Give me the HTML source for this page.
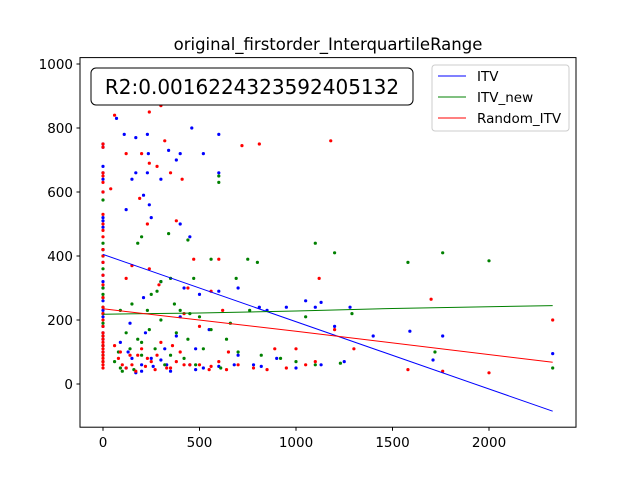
<!DOCTYPE html>
<html><head><meta charset="utf-8"><style>
body{margin:0;background:#fff;font-family:"Liberation Sans","DejaVu Sans",sans-serif}
svg text{font-family:"DejaVu Sans","Liberation Sans",sans-serif}
</style></head><body>
<svg id="c" width="640" height="480" xmlns="http://www.w3.org/2000/svg">
<rect width="640" height="480" fill="#fff"/>
<g id="marks"></g>
<rect x="80" y="57.6" width="496" height="369.6" fill="none" stroke="#000" stroke-width="1"/>
<g id="axes"></g>
<text x="328" y="50" font-size="16.5" text-anchor="middle">original_firstorder_InterquartileRange</text>
<rect x="91" y="68" width="322" height="37" rx="5" fill="#fff" stroke="#000" stroke-width="1"/>
<text x="252" y="94" font-size="20" text-anchor="middle">R2:0.0016224323592405132</text>
<g>
<rect x="432" y="65" width="137" height="66" rx="3" fill="#fff" fill-opacity="0.8" stroke="#ccc"/>
<line x1="438" y1="76" x2="466" y2="76" stroke="#0000ff"/>
<text x="477" y="81" font-size="13.5">ITV</text>
<line x1="438" y1="97" x2="466" y2="97" stroke="#008000"/>
<text x="477" y="102" font-size="13.5">ITV_new</text>
<line x1="438" y1="118" x2="466" y2="118" stroke="#ff0000"/>
<text x="477" y="123" font-size="13.5">Random_ITV</text>
</g>
</svg>
<script>
const xTicks=[0,500,1000,1500,2000];
const yTicks=[0,200,400,600,800,1000];
const blueX0=[750,740,680,660,640,600,520,510,490,420,380,340,320,300,260,230,210,180,160,140,120,100];
const greenX0=[575,440,420,400,360,300,280,270,240,220,190,150,120,90,70];
const redX0=[750,740,660,650,630,600,530,500,480,460,420,400,380,340,310,270,240,220,200,180,160,140,120,100,80,60,50,110,90,70,130,150];
const bluePts=[[70,830],[110,780],[170,770],[230,780],[235,720],[340,730],[170,660],[230,660],[120,545],[150,640],[300,640],[380,700],[400,720],[520,720],[600,780],[460,800],[600,660],[250,520],[240,560],[400,500],[450,460],[210,590],[300,320],[210,270],[420,300],[500,280],[600,290],[700,300],[810,240],[1050,260],[1130,255],[1280,240],[1200,180],[1400,150],[1590,165],[1760,150],[1710,75],[2330,95],[1130,60],[1250,70],[1000,50],[900,80],[780,60],[600,55],[450,60],[300,75],[200,40],[150,80],[380,150],[250,80],[950,240],[1100,240],[850,230],[700,90],[550,170],[480,110],[320,110],[140,190],[400,210],[220,160],[90,130],[130,100],[200,60],[260,55],[330,60],[480,45],[520,50],[680,60],[820,55],[350,40],[170,35],[120,50]];
const greenPts=[[180,440],[200,460],[340,470],[300,320],[350,330],[370,250],[440,450],[560,390],[600,630],[600,650],[470,330],[690,330],[750,390],[800,380],[1100,440],[1200,410],[1580,380],[1760,410],[2000,385],[1050,210],[1290,220],[1720,100],[2330,50],[1230,65],[1100,60],[1000,70],[920,80],[820,90],[700,100],[640,140],[560,170],[500,210],[450,220],[400,230],[300,200],[250,280],[150,250],[120,160],[80,100],[200,130],[350,90],[420,80],[480,60],[100,40],[160,45],[240,170],[380,160],[520,110],[660,190],[760,230],[280,290],[90,230],[230,230],[60,70],[200,90],[270,110],[320,60],[440,140],[180,140],[140,110],[610,50],[90,50]];
const redPts=[[60,840],[240,850],[300,870],[120,720],[200,720],[320,760],[280,680],[240,690],[40,610],[190,580],[230,500],[380,510],[350,660],[410,640],[720,745],[810,750],[1180,760],[470,390],[120,330],[150,370],[240,360],[290,310],[440,300],[560,290],[600,390],[620,230],[1120,330],[1700,265],[2330,200],[1200,170],[1300,110],[1580,45],[2000,35],[1760,40],[1100,70],[950,50],[850,45],[780,50],[700,60],[550,45],[450,60],[350,50],[250,70],[150,60],[80,80],[60,120],[200,110],[300,130],[400,100],[500,180],[650,100],[890,110],[1050,60],[270,45],[180,90],[420,220],[1000,110],[100,60],[120,50],[170,40],[220,55],[280,90],[330,50],[380,70],[500,60],[560,55],[640,45],[90,100],[140,90],[230,80],[360,120],[420,60],[600,70]];
const blueLineX=[0,2330];const blueLineY=[405,-85];
const greenLineX=[0,500,1000,1500,2330];const greenLineY=[218,222,228,236,245];
const redLineX=[0,1000,2330];const redLineY=[235,165,68];
const NS="http://www.w3.org/2000/svg";
const xs=v=>103+v*0.193, ys=v=>384-v*0.32;
const marks=document.getElementById('marks'), axes=document.getElementById('axes');
function mk(t,a,p){const e=document.createElementNS(NS,t);for(const k in a)e.setAttribute(k,a[k]);p.appendChild(e);return e;}
function dots(pts,col,name){pts.forEach(p=>{const e=mk('circle',{cx:xs(p[0]),cy:ys(p[1]),r:1.6,fill:col},marks);

});}
dots(bluePts,'#0000ff','itv-point');
dots(blueX0.map(v=>[0,v]),'#0000ff','itv-point');
dots(greenPts,'#008000','itv-new-point');
dots(greenX0.map(v=>[0,v]),'#008000','itv-new-point');
dots(redPts,'#ff0000','random-itv-point');
dots(redX0.map(v=>[0,v]),'#ff0000','random-itv-point');
function line(X,Y,col,name){const e=mk('polyline',{points:X.map((x,i)=>xs(x)+','+ys(Y[i])).join(' '),fill:'none',stroke:col,'stroke-width':1},marks);

}
line(blueLineX,blueLineY,'#0000ff','itv-fit-line');
line(greenLineX,greenLineY,'#008000','itv-new-fit-line');
line(redLineX,redLineY,'#ff0000','random-itv-fit-line');
xTicks.forEach(v=>{const x=xs(v);mk('line',{x1:x,y1:427.2,x2:x,y2:430.7,stroke:'#000'},axes);
const t=mk('text',{x:x,y:447,'font-size':13.5,'text-anchor':'middle'},axes);t.textContent=v;

});
yTicks.forEach(v=>{const y=ys(v);mk('line',{x1:76.5,y1:y,x2:80,y2:y,stroke:'#000'},axes);
const t=mk('text',{x:73,y:y+5,'font-size':13.5,'text-anchor':'end'},axes);t.textContent=v;

});
</script>
</body></html>
